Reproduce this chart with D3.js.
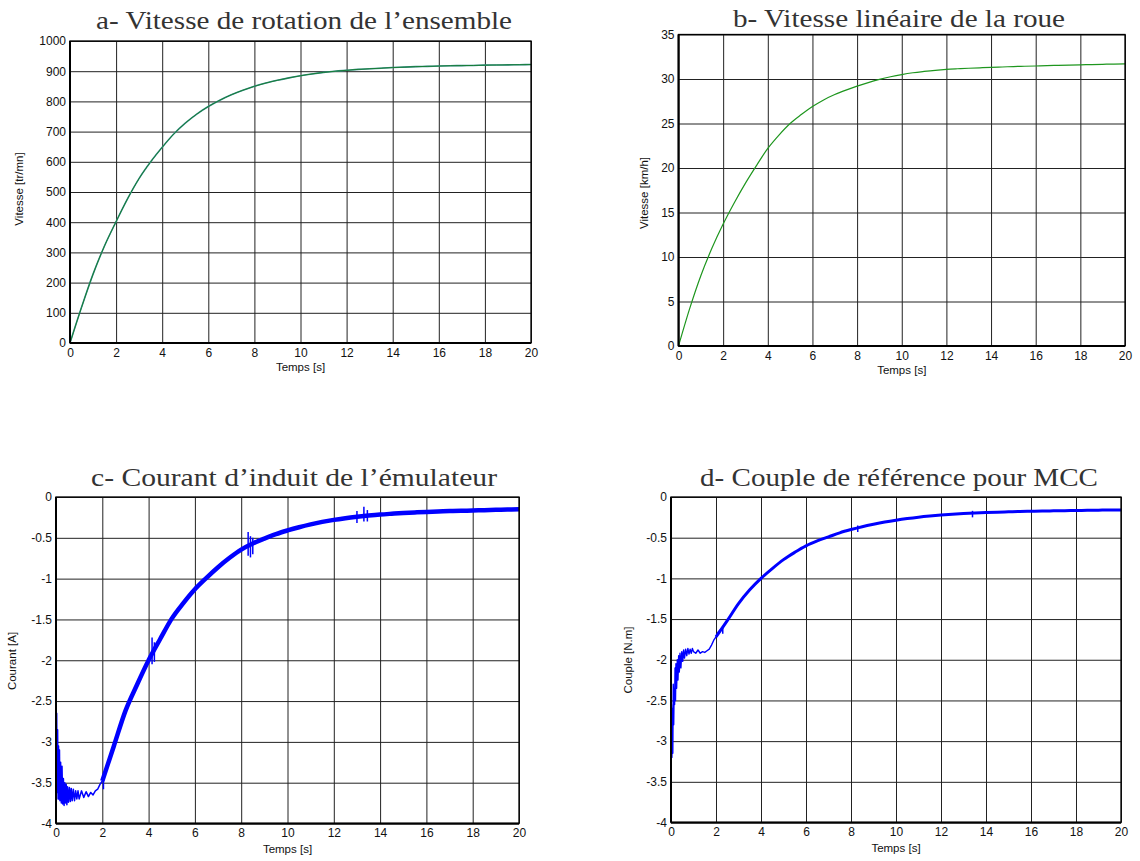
<!DOCTYPE html>
<html>
<head>
<meta charset="utf-8">
<script src="https://cdn.jsdelivr.net/npm/d3@7"></script>
<style>
body { margin:0; background:#fff; }
text { font-family: "Liberation Sans", Arial, sans-serif; }
.ttl { font-family: "Liberation Serif", "DejaVu Serif", serif; fill:#333; }
</style>
</head>
<body>
<svg id="fig" width="1140" height="861"></svg>
<script>
// time axis shared by all four panels
var tMain = [0,0.5,1,1.5,2,2.5,3,3.5,4,4.5,5,5.5,6,6.5,7,7.5,8,8.5,9,9.5,10,
  10.5,11,11.5,12,12.5,13,13.5,14,14.5,15,15.5,16,16.5,17,17.5,18,18.5,19,19.5,20];
var xTicks = [0,2,4,6,8,10,12,14,16,18,20];

// a- vitesse de rotation [tr/mn]
var vitRot = [0,118,228,322,402,478,545,600,648,692,728,758,783,804,822,837,850,861,870,878,885,
  891,896,900,903,906,908,910,912,913.5,915,916,917,918,918.5,919,920,920.5,921,921.5,922];
var yTicksA = [0,100,200,300,400,500,600,700,800,900,1000];

// b- vitesse lineaire [km/h]
var vitLin = [0,4.2,7.9,11,13.7,16.1,18.3,20.3,22.2,23.7,25,26,26.9,27.65,28.25,28.75,29.2,29.6,29.95,30.25,30.5,
  30.7,30.85,30.98,31.08,31.15,31.21,31.26,31.3,31.35,31.4,31.43,31.46,31.5,31.53,31.56,31.59,31.62,31.65,31.68,31.7];
var yTicksB = [0,5,10,15,20,25,30,35];

// c- courant d'induit [A]
var tLate = [2,2.5,3,3.5,4,4.5,5,5.5,6,6.5,7,7.5,8,8.5,9,9.5,10,10.5,11,11.5,12,12.5,13,13.5,14,14.5,
  15,15.5,16,16.5,17,17.5,18,18.5,19,19.5,20];
var courant = [-3.48,-3.05,-2.62,-2.3,-2,-1.74,-1.49,-1.3,-1.13,-0.99,-0.86,-0.745,-0.645,-0.57,-0.51,-0.455,-0.41,
  -0.37,-0.335,-0.305,-0.28,-0.26,-0.243,-0.228,-0.215,-0.205,-0.196,-0.189,-0.183,-0.178,-0.173,-0.169,-0.165,-0.161,-0.157,-0.153,-0.15];
var tEarlyC = [0,0.01,0.03,0.05,0.07,0.09,0.11,0.13,0.15,0.17,0.2,0.23,0.26,0.29,0.32,0.35,0.38,0.41,0.44,0.47,0.5,
  0.54,0.58,0.62,0.66,0.7,0.75,0.8,0.85,0.9,0.95,1,1.1,1.2,1.3,1.4,1.5,1.6,1.7,1.8,1.9,2];
var courantEarly = [0,-3.6,-2.65,-3.62,-2.85,-3.7,-3.05,-3.7,-3.1,-3.72,-3.25,-3.75,-3.3,-3.76,-3.45,-3.78,-3.5,-3.75,
  -3.52,-3.77,-3.55,-3.74,-3.56,-3.73,-3.57,-3.72,-3.58,-3.72,-3.6,-3.7,-3.6,-3.7,-3.6,-3.68,-3.61,-3.67,-3.62,-3.65,-3.6,-3.58,-3.52,-3.48];
// spikes: [t, top, bottom]
var courantSpikes = [[2.05,-3.4,-3.58],[4.15,-1.72,-2.05],[4.25,-1.78,-2.02],[8.3,-0.43,-0.72],[8.4,-0.48,-0.74],
  [8.5,-0.5,-0.7],[13,-0.17,-0.32],[13.3,-0.12,-0.3],[13.45,-0.16,-0.3]];

// d- couple de reference [N.m]
var couple = [-1.72,-1.52,-1.31,-1.14,-1,-0.88,-0.77,-0.68,-0.6,-0.54,-0.49,-0.44,-0.4,-0.365,-0.335,-0.308,-0.285,
  -0.265,-0.248,-0.234,-0.222,-0.212,-0.204,-0.197,-0.191,-0.186,-0.182,-0.178,-0.175,-0.172,-0.17,-0.168,-0.166,-0.164,-0.162,-0.16,-0.16];
var tEarlyD = [0,0.005,0.02,0.04,0.06,0.08,0.1,0.12,0.14,0.16,0.18,0.2,0.22,0.25,0.28,0.31,0.34,0.37,0.4,0.44,0.48,
  0.52,0.56,0.6,0.65,0.7,0.75,0.8,0.85,0.9,0.95,1,1.1,1.2,1.3,1.4,1.5,1.6,1.7,1.8,1.9,2,2.1,2.2];
var coupleEarly = [0,-3.85,-2.55,-3.2,-2.6,-3.15,-2.3,-2.8,-2.35,-2.55,-2.1,-2.5,-2.05,-2.35,-2,-2.25,-1.95,-2.15,
  -1.92,-2.1,-1.9,-2.02,-1.88,-1.98,-1.87,-1.95,-1.86,-1.93,-1.87,-1.92,-1.86,-1.9,-1.92,-1.88,-1.92,-1.9,-1.91,-1.89,-1.87,-1.82,-1.76,-1.72,-1.66,-1.63];
var coupleSpikes = [[8.3,-0.35,-0.43],[13.4,-0.17,-0.25],[2.3,-1.6,-1.68]];
var yTicksCD = [-4,-3.5,-3,-2.5,-2,-1.5,-1,-0.5,0];

var svg = d3.select("#fig");

function panel(p) {
  var w = p.x1 - p.x0, h = p.y1 - p.y0;
  var g = svg.append("g").attr("transform", `translate(${p.x0},${p.y0})`);
  var x = d3.scaleLinear().domain([0,20]).range([0,w]);
  var y = d3.scaleLinear().domain(p.ydom).range([h,0]);

  // grid + tick labels
  var gx = g.append("g").attr("transform", `translate(0,${h})`)
    .call(d3.axisBottom(x).tickValues(xTicks).tickSize(-h).tickPadding(5).tickFormat(d => String(d)));
  var gy = g.append("g")
    .call(d3.axisLeft(y).tickValues(p.yticks).tickSize(-w).tickPadding(4).tickFormat(d => String(d)));
  [gx, gy].forEach(function(ax) {
    ax.select(".domain").remove();
    ax.selectAll(".tick line").attr("stroke", "#222").attr("stroke-width", 1);
    ax.selectAll(".tick text").attr("font-size", 12).attr("fill", "#111")
      .attr("font-family", "Liberation Sans, Arial, sans-serif");
  });

  g.append("clipPath").attr("id", "clip" + p.id)
    .append("rect").attr("x", -2).attr("y", -2).attr("width", w + 4).attr("height", h + 4);
  var plot = g.append("g").attr("clip-path", `url(#clip${p.id})`);

  p.series.forEach(function(s) {
    var line = d3.line().x(d => x(d[0])).y(d => y(d[1]))
      .curve(s.smooth ? d3.curveMonotoneX : d3.curveLinear);
    plot.append("path").datum(d3.zip(s.t, s.v))
      .attr("d", line).attr("fill", "none")
      .attr("stroke", s.color).attr("stroke-width", s.width)
      .attr("stroke-linejoin", "round");
  });
  if (p.spikes) {
    plot.selectAll(".spike").data(p.spikes).enter().append("line")
      .attr("x1", d => x(d[0])).attr("x2", d => x(d[0]))
      .attr("y1", d => y(d[1])).attr("y2", d => y(d[2]))
      .attr("stroke", p.spikeColor).attr("stroke-width", 1.5);
  }

  // frame
  g.append("rect").attr("width", w).attr("height", h)
    .attr("fill", "none").attr("stroke", "#000").attr("stroke-width", 1.3);
  g.append("line").attr("x1", 0).attr("x2", w).attr("y1", h).attr("y2", h)
    .attr("stroke", "#000").attr("stroke-width", 2.2);
  g.append("line").attr("x1", 0).attr("x2", 0).attr("y1", 0).attr("y2", h)
    .attr("stroke", "#000").attr("stroke-width", 2);

  // labels
  g.append("text").attr("class", "ttl")
    .attr("x", p.titleX0 - p.x0).attr("y", p.titleY - p.y0)
    .attr("font-size", 25).attr("textLength", p.titleW).attr("lengthAdjust", "spacingAndGlyphs")
    .text(p.title);
  g.append("text").attr("x", w / 2).attr("y", p.xlabY - p.y0).attr("text-anchor", "middle")
    .attr("dominant-baseline", "middle").attr("font-size", 11.5).attr("fill", "#111").text("Temps [s]");
  g.append("text")
    .attr("transform", `translate(${p.ylabX - p.x0},${p.ylabY - p.y0}) rotate(-90)`)
    .attr("text-anchor", "middle").attr("dominant-baseline", "middle")
    .attr("font-size", 11.5).attr("fill", "#111").text(p.ylabel);
}

panel({ id: "a", x0: 70, x1: 531, y0: 41, y1: 343, ydom: [0,1000], yticks: yTicksA,
  title: "a- Vitesse de rotation de l\u2019ensemble", titleX0: 96, titleW: 416, titleY: 29,
  xlabY: 368, ylabel: "Vitesse [tr/mn]", ylabX: 20, ylabY: 189,
  series: [{ t: tMain, v: vitRot, color: "#3b8f8f", width: 1.6, smooth: true },
           { t: tMain, v: vitRot, color: "#127a2a", width: 0.9, smooth: true }] });

panel({ id: "b", x0: 678.5, x1: 1125, y0: 34.5, y1: 346, ydom: [0,35], yticks: yTicksB,
  title: "b- Vitesse lin\u00e9aire de la roue", titleX0: 733, titleW: 332, titleY: 27,
  xlabY: 371, ylabel: "Vitesse [km/h]", ylabX: 645, ylabY: 193,
  series: [{ t: tMain, v: vitLin, color: "#1e961e", width: 1.2, smooth: true }] });

panel({ id: "c", x0: 56, x1: 519, y0: 497, y1: 823.5, ydom: [-4,0], yticks: yTicksCD,
  title: "c- Courant d\u2019induit de l\u2019\u00e9mulateur", titleX0: 91, titleW: 406, titleY: 486,
  xlabY: 850, ylabel: "Courant [A]", ylabX: 13, ylabY: 661,
  series: [{ t: tEarlyC, v: courantEarly, color: "#0000ff", width: 1.5 },
           { t: tLate, v: courant, color: "#0000ff", width: 4.5, smooth: true }],
  spikes: courantSpikes, spikeColor: "#0000ff" });

panel({ id: "d", x0: 671, x1: 1121, y0: 497, y1: 822.5, ydom: [-4,0], yticks: yTicksCD,
  title: "d- Couple de r\u00e9f\u00e9rence pour MCC", titleX0: 700, titleW: 398, titleY: 486,
  xlabY: 849, ylabel: "Couple [N.m]", ylabX: 629, ylabY: 660,
  series: [{ t: tEarlyD, v: coupleEarly, color: "#0000ff", width: 1.4 },
           { t: tLate, v: couple, color: "#0000ff", width: 3, smooth: true }],
  spikes: coupleSpikes, spikeColor: "#0000ff" });
</script>
</body>
</html>
